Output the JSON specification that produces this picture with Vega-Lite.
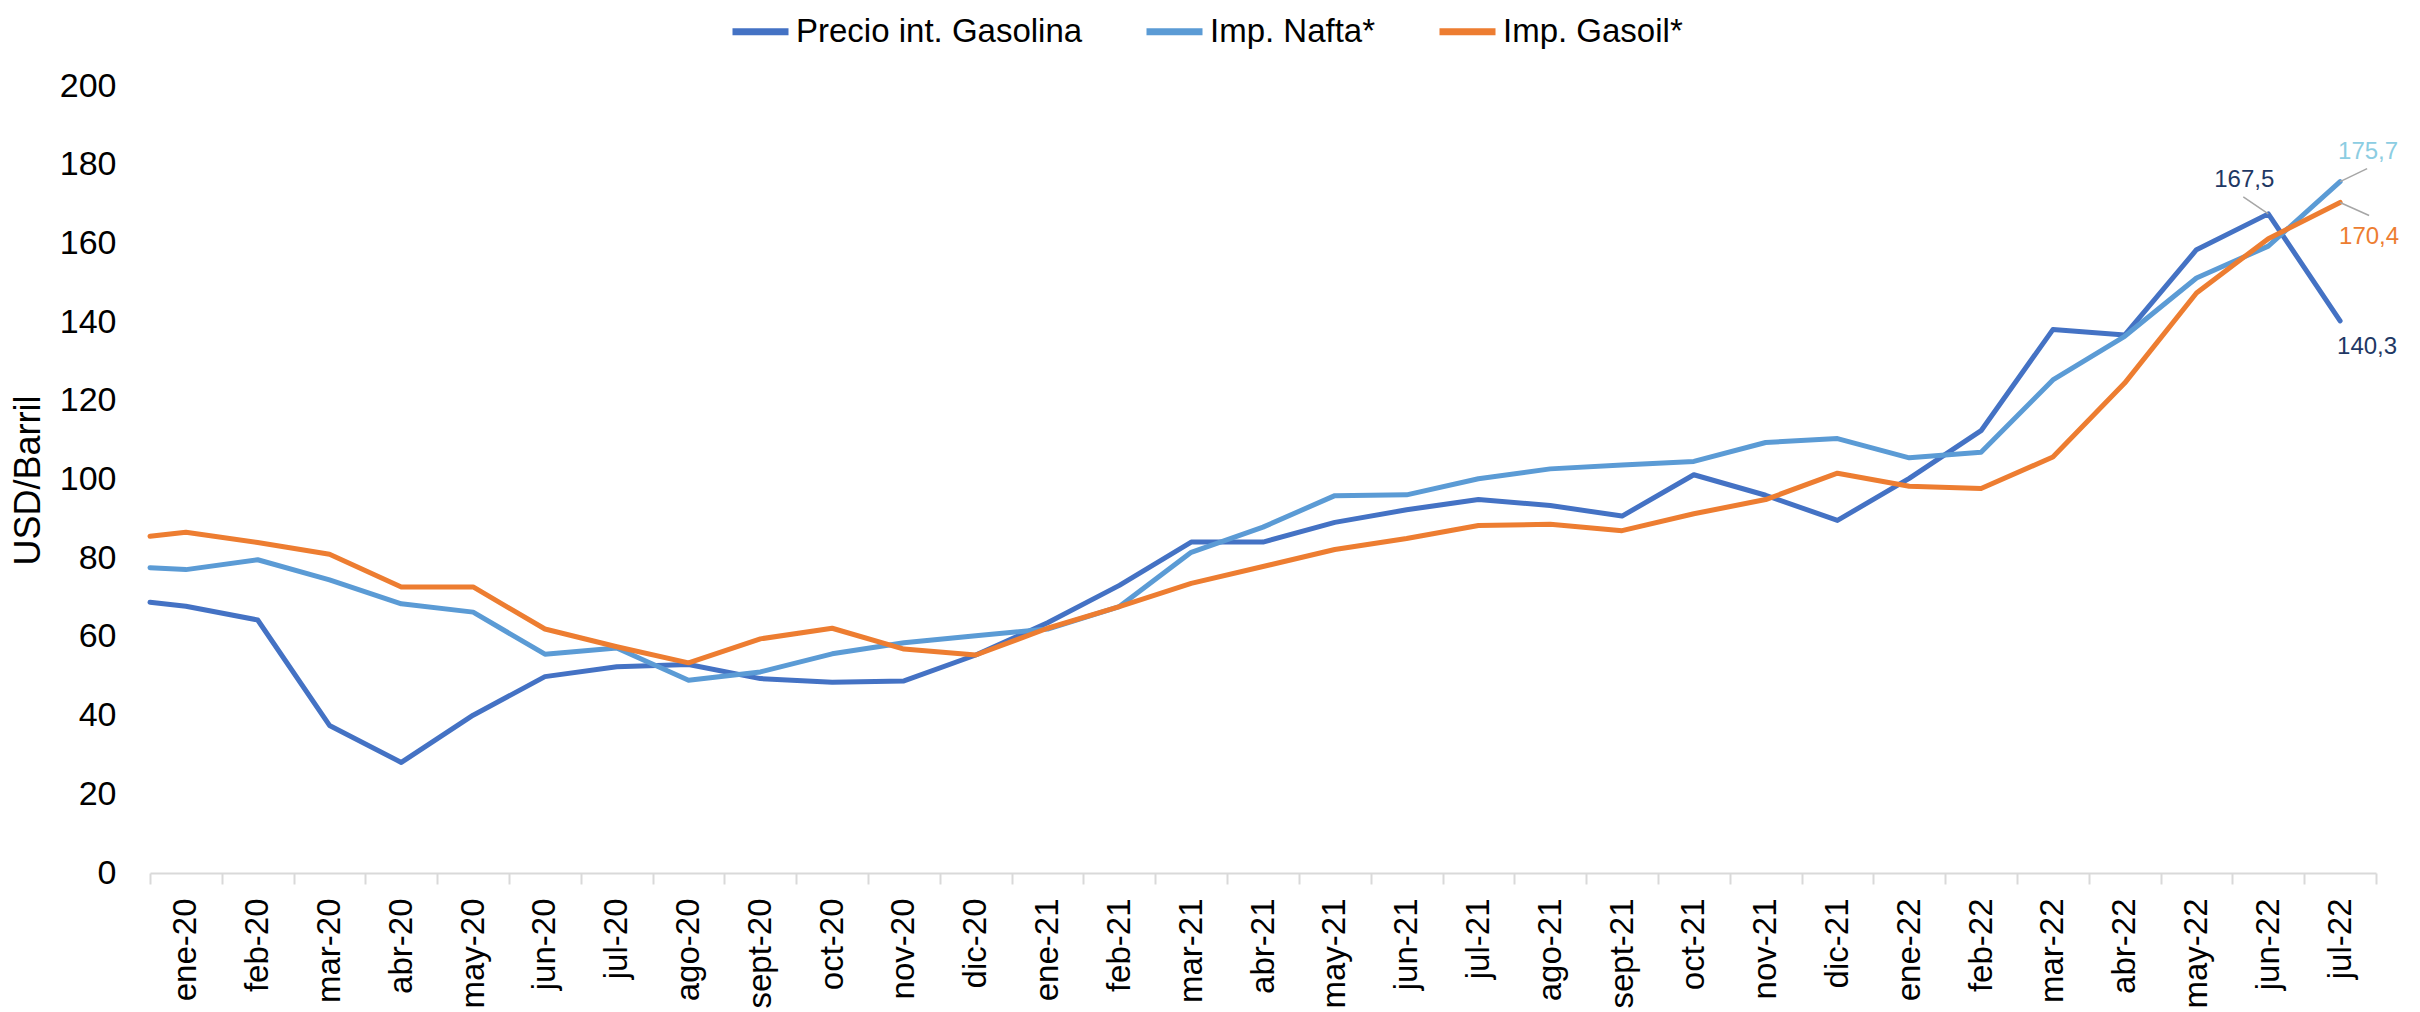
{
  "$schema": "https://vega.github.io/schema/vega-lite/v6.json",
  "width": 2226,
  "height": 787,
  "autosize": {"type": "none"},
  "padding": {"left": 150, "top": 86, "right": 44, "bottom": 139},
  "background": "white",
  "config": {
    "view": {"stroke": null},
    "font": "Liberation Sans"
  },
  "datasets": {
    "precios": [
      {"mes": "inicio", "i": 0.5, "serie": "Precio int. Gasolina", "v": 68.8},
      {"mes": "ene-20", "i": 1, "serie": "Precio int. Gasolina", "v": 67.8},
      {"mes": "feb-20", "i": 2, "serie": "Precio int. Gasolina", "v": 64.3},
      {"mes": "mar-20", "i": 3, "serie": "Precio int. Gasolina", "v": 37.5},
      {"mes": "abr-20", "i": 4, "serie": "Precio int. Gasolina", "v": 28.1},
      {"mes": "may-20", "i": 5, "serie": "Precio int. Gasolina", "v": 40.1},
      {"mes": "jun-20", "i": 6, "serie": "Precio int. Gasolina", "v": 49.9},
      {"mes": "jul-20", "i": 7, "serie": "Precio int. Gasolina", "v": 52.4},
      {"mes": "ago-20", "i": 8, "serie": "Precio int. Gasolina", "v": 53.0},
      {"mes": "sept-20", "i": 9, "serie": "Precio int. Gasolina", "v": 49.4},
      {"mes": "oct-20", "i": 10, "serie": "Precio int. Gasolina", "v": 48.5},
      {"mes": "nov-20", "i": 11, "serie": "Precio int. Gasolina", "v": 48.8},
      {"mes": "dic-20", "i": 12, "serie": "Precio int. Gasolina", "v": 55.4},
      {"mes": "ene-21", "i": 13, "serie": "Precio int. Gasolina", "v": 63.6},
      {"mes": "feb-21", "i": 14, "serie": "Precio int. Gasolina", "v": 73.1},
      {"mes": "mar-21", "i": 15, "serie": "Precio int. Gasolina", "v": 84.1},
      {"mes": "abr-21", "i": 16, "serie": "Precio int. Gasolina", "v": 84.1},
      {"mes": "may-21", "i": 17, "serie": "Precio int. Gasolina", "v": 89.1},
      {"mes": "jun-21", "i": 18, "serie": "Precio int. Gasolina", "v": 92.3},
      {"mes": "jul-21", "i": 19, "serie": "Precio int. Gasolina", "v": 94.9},
      {"mes": "ago-21", "i": 20, "serie": "Precio int. Gasolina", "v": 93.4},
      {"mes": "sept-21", "i": 21, "serie": "Precio int. Gasolina", "v": 90.7},
      {"mes": "oct-21", "i": 22, "serie": "Precio int. Gasolina", "v": 101.2},
      {"mes": "nov-21", "i": 23, "serie": "Precio int. Gasolina", "v": 96.0},
      {"mes": "dic-21", "i": 24, "serie": "Precio int. Gasolina", "v": 89.6},
      {"mes": "ene-22", "i": 25, "serie": "Precio int. Gasolina", "v": 100.3},
      {"mes": "feb-22", "i": 26, "serie": "Precio int. Gasolina", "v": 112.4},
      {"mes": "mar-22", "i": 27, "serie": "Precio int. Gasolina", "v": 138.1},
      {"mes": "abr-22", "i": 28, "serie": "Precio int. Gasolina", "v": 136.7},
      {"mes": "may-22", "i": 29, "serie": "Precio int. Gasolina", "v": 158.4},
      {"mes": "jun-22", "i": 30, "serie": "Precio int. Gasolina", "v": 167.5},
      {"mes": "jul-22", "i": 31, "serie": "Precio int. Gasolina", "v": 140.3},
      {"mes": "inicio", "i": 0.5, "serie": "Imp. Nafta*", "v": 77.6},
      {"mes": "ene-20", "i": 1, "serie": "Imp. Nafta*", "v": 77.1},
      {"mes": "feb-20", "i": 2, "serie": "Imp. Nafta*", "v": 79.6},
      {"mes": "mar-20", "i": 3, "serie": "Imp. Nafta*", "v": 74.5},
      {"mes": "abr-20", "i": 4, "serie": "Imp. Nafta*", "v": 68.4},
      {"mes": "may-20", "i": 5, "serie": "Imp. Nafta*", "v": 66.3},
      {"mes": "jun-20", "i": 6, "serie": "Imp. Nafta*", "v": 55.6},
      {"mes": "jul-20", "i": 7, "serie": "Imp. Nafta*", "v": 57.2},
      {"mes": "ago-20", "i": 8, "serie": "Imp. Nafta*", "v": 49.0},
      {"mes": "sept-20", "i": 9, "serie": "Imp. Nafta*", "v": 51.1},
      {"mes": "oct-20", "i": 10, "serie": "Imp. Nafta*", "v": 55.7},
      {"mes": "nov-20", "i": 11, "serie": "Imp. Nafta*", "v": 58.5},
      {"mes": "dic-20", "i": 12, "serie": "Imp. Nafta*", "v": 60.3},
      {"mes": "ene-21", "i": 13, "serie": "Imp. Nafta*", "v": 62.0},
      {"mes": "feb-21", "i": 14, "serie": "Imp. Nafta*", "v": 67.7},
      {"mes": "mar-21", "i": 15, "serie": "Imp. Nafta*", "v": 81.5},
      {"mes": "abr-21", "i": 16, "serie": "Imp. Nafta*", "v": 87.9},
      {"mes": "may-21", "i": 17, "serie": "Imp. Nafta*", "v": 95.9},
      {"mes": "jun-21", "i": 18, "serie": "Imp. Nafta*", "v": 96.1},
      {"mes": "jul-21", "i": 19, "serie": "Imp. Nafta*", "v": 100.2},
      {"mes": "ago-21", "i": 20, "serie": "Imp. Nafta*", "v": 102.7},
      {"mes": "sept-21", "i": 21, "serie": "Imp. Nafta*", "v": 103.7},
      {"mes": "oct-21", "i": 22, "serie": "Imp. Nafta*", "v": 104.6},
      {"mes": "nov-21", "i": 23, "serie": "Imp. Nafta*", "v": 109.4},
      {"mes": "dic-21", "i": 24, "serie": "Imp. Nafta*", "v": 110.4},
      {"mes": "ene-22", "i": 25, "serie": "Imp. Nafta*", "v": 105.5},
      {"mes": "feb-22", "i": 26, "serie": "Imp. Nafta*", "v": 106.9},
      {"mes": "mar-22", "i": 27, "serie": "Imp. Nafta*", "v": 125.3},
      {"mes": "abr-22", "i": 28, "serie": "Imp. Nafta*", "v": 136.4},
      {"mes": "may-22", "i": 29, "serie": "Imp. Nafta*", "v": 151.2},
      {"mes": "jun-22", "i": 30, "serie": "Imp. Nafta*", "v": 159.3},
      {"mes": "jul-22", "i": 31, "serie": "Imp. Nafta*", "v": 175.7},
      {"mes": "inicio", "i": 0.5, "serie": "Imp. Gasoil*", "v": 85.6},
      {"mes": "ene-20", "i": 1, "serie": "Imp. Gasoil*", "v": 86.6},
      {"mes": "feb-20", "i": 2, "serie": "Imp. Gasoil*", "v": 84.0},
      {"mes": "mar-20", "i": 3, "serie": "Imp. Gasoil*", "v": 81.0},
      {"mes": "abr-20", "i": 4, "serie": "Imp. Gasoil*", "v": 72.7},
      {"mes": "may-20", "i": 5, "serie": "Imp. Gasoil*", "v": 72.7},
      {"mes": "jun-20", "i": 6, "serie": "Imp. Gasoil*", "v": 62.0},
      {"mes": "jul-20", "i": 7, "serie": "Imp. Gasoil*", "v": 57.5},
      {"mes": "ago-20", "i": 8, "serie": "Imp. Gasoil*", "v": 53.4},
      {"mes": "sept-20", "i": 9, "serie": "Imp. Gasoil*", "v": 59.5},
      {"mes": "oct-20", "i": 10, "serie": "Imp. Gasoil*", "v": 62.2},
      {"mes": "nov-20", "i": 11, "serie": "Imp. Gasoil*", "v": 56.9},
      {"mes": "dic-20", "i": 12, "serie": "Imp. Gasoil*", "v": 55.4},
      {"mes": "ene-21", "i": 13, "serie": "Imp. Gasoil*", "v": 62.2},
      {"mes": "feb-21", "i": 14, "serie": "Imp. Gasoil*", "v": 67.7},
      {"mes": "mar-21", "i": 15, "serie": "Imp. Gasoil*", "v": 73.6},
      {"mes": "abr-21", "i": 16, "serie": "Imp. Gasoil*", "v": 77.9},
      {"mes": "may-21", "i": 17, "serie": "Imp. Gasoil*", "v": 82.2},
      {"mes": "jun-21", "i": 18, "serie": "Imp. Gasoil*", "v": 85.0},
      {"mes": "jul-21", "i": 19, "serie": "Imp. Gasoil*", "v": 88.3},
      {"mes": "ago-21", "i": 20, "serie": "Imp. Gasoil*", "v": 88.6},
      {"mes": "sept-21", "i": 21, "serie": "Imp. Gasoil*", "v": 87.0},
      {"mes": "oct-21", "i": 22, "serie": "Imp. Gasoil*", "v": 91.3},
      {"mes": "nov-21", "i": 23, "serie": "Imp. Gasoil*", "v": 94.9},
      {"mes": "dic-21", "i": 24, "serie": "Imp. Gasoil*", "v": 101.6},
      {"mes": "ene-22", "i": 25, "serie": "Imp. Gasoil*", "v": 98.3},
      {"mes": "feb-22", "i": 26, "serie": "Imp. Gasoil*", "v": 97.7},
      {"mes": "mar-22", "i": 27, "serie": "Imp. Gasoil*", "v": 105.7},
      {"mes": "abr-22", "i": 28, "serie": "Imp. Gasoil*", "v": 124.5},
      {"mes": "may-22", "i": 29, "serie": "Imp. Gasoil*", "v": 147.4},
      {"mes": "jun-22", "i": 30, "serie": "Imp. Gasoil*", "v": 161.2},
      {"mes": "jul-22", "i": 31, "serie": "Imp. Gasoil*", "v": 170.4}
    ],
    "anot": [
      {"serie": "Precio int. Gasolina", "i": 30, "v": 167.5, "etiqueta": "167,5"},
      {"serie": "Precio int. Gasolina", "i": 31, "v": 140.3, "etiqueta": "140,3"},
      {"serie": "Imp. Nafta*", "i": 31, "v": 175.7, "etiqueta": "175,7"},
      {"serie": "Imp. Gasoil*", "i": 31, "v": 170.4, "etiqueta": "170,4"}
    ]
  },
  "encoding": {
    "x": {
      "field": "i",
      "type": "quantitative",
      "scale": {"domain": [0.5, 31.5], "nice": false, "zero": false},
      "axis": {
        "title": null,
        "grid": false,
        "values": [0.5, 1, 1.5, 2, 2.5, 3, 3.5, 4, 4.5, 5, 5.5, 6, 6.5, 7, 7.5, 8, 8.5, 9, 9.5, 10, 10.5, 11, 11.5, 12, 12.5, 13, 13.5, 14, 14.5, 15, 15.5, 16, 16.5, 17, 17.5, 18, 18.5, 19, 19.5, 20, 20.5, 21, 21.5, 22, 22.5, 23, 23.5, 24, 24.5, 25, 25.5, 26, 26.5, 27, 27.5, 28, 28.5, 29, 29.5, 30, 30.5, 31, 31.5],
        "labelExpr": "datum.value % 1 === 0 ? ['ene-20','feb-20','mar-20','abr-20','may-20','jun-20','jul-20','ago-20','sept-20','oct-20','nov-20','dic-20','ene-21','feb-21','mar-21','abr-21','may-21','jun-21','jul-21','ago-21','sept-21','oct-21','nov-21','dic-21','ene-22','feb-22','mar-22','abr-22','may-22','jun-22','jul-22'][datum.value - 1] : ''",
        "tickOpacity": {"condition": {"test": "datum.value % 1 !== 0", "value": 1}, "value": 0},
        "tickSize": 11,
        "tickWidth": 2,
        "tickColor": "#D9D9D9",
        "domainColor": "#D9D9D9",
        "domainWidth": 2,
        "labelAngle": -90,
        "labelAlign": "right",
        "labelBaseline": "middle",
        "labelFont": "Liberation Sans",
        "labelFontSize": 33,
        "labelColor": "#000000",
        "labelPadding": 14,
        "labelOverlap": false,
        "labelBound": false,
        "labelFlush": false
      }
    },
    "y": {
      "field": "v",
      "type": "quantitative",
      "scale": {"domain": [0, 200], "nice": false},
      "axis": {
        "title": "USD/Barril",
        "values": [0, 20, 40, 60, 80, 100, 120, 140, 160, 180, 200],
        "grid": false,
        "domain": false,
        "ticks": false,
        "labelFont": "Liberation Sans",
        "labelFontSize": 34,
        "labelColor": "#000000",
        "labelPadding": 34,
        "titleFont": "Liberation Sans",
        "titleFontSize": 36,
        "titleFontWeight": "normal",
        "titleColor": "#000000",
        "titleX": -122,
        "titleY": 394,
        "titleAngle": -90,
        "titleAlign": "center",
        "titleBaseline": "middle"
      }
    }
  },
  "layer": [
    {
      "data": {"name": "precios"},
      "mark": {"type": "line", "strokeWidth": 5, "strokeJoin": "round", "strokeCap": "round"},
      "encoding": {
        "color": {
          "field": "serie",
          "type": "nominal",
          "sort": ["Precio int. Gasolina", "Imp. Nafta*", "Imp. Gasoil*"],
          "scale": {"domain": ["Precio int. Gasolina", "Imp. Nafta*", "Imp. Gasoil*"], "range": ["#4472C4", "#5B9BD5", "#ED7D31"]},
          "legend": {
            "title": null,
            "orient": "none",
            "direction": "horizontal",
            "legendX": 579,
            "legendY": -86,
            "symbolType": "stroke",
            "symbolSize": 3136,
            "symbolStrokeWidth": 7,
            "labelFont": "Liberation Sans",
            "labelFontSize": 33,
            "labelColor": "#000000",
            "labelOffset": 4,
            "columnPadding": 49,
            "labelLimit": 500
          }
        }
      }
    },
    {
      "data": {"name": "anot"},
      "transform": [{"filter": "datum.etiqueta === '167,5'"}],
      "mark": {"type": "rule", "color": "#A6A6A6", "strokeWidth": 1.5, "x2Offset": -25, "y2Offset": -17},
      "encoding": {"x2": {"field": "i"}, "y2": {"field": "v"}}
    },
    {
      "data": {"name": "anot"},
      "transform": [{"filter": "datum.etiqueta === '175,7'"}],
      "mark": {"type": "rule", "color": "#A6A6A6", "strokeWidth": 1.5, "x2Offset": 27, "y2Offset": -13},
      "encoding": {"x2": {"field": "i"}, "y2": {"field": "v"}}
    },
    {
      "data": {"name": "anot"},
      "transform": [{"filter": "datum.etiqueta === '170,4'"}],
      "mark": {"type": "rule", "color": "#A6A6A6", "strokeWidth": 1.5, "x2Offset": 29, "y2Offset": 13},
      "encoding": {"x2": {"field": "i"}, "y2": {"field": "v"}}
    },
    {
      "data": {"name": "anot"},
      "transform": [{"filter": "datum.etiqueta === '167,5'"}],
      "mark": {"type": "text", "font": "Liberation Sans", "fontSize": 24, "color": "#1F3864", "dx": -24, "dy": -34},
      "encoding": {"text": {"field": "etiqueta"}}
    },
    {
      "data": {"name": "anot"},
      "transform": [{"filter": "datum.etiqueta === '140,3'"}],
      "mark": {"type": "text", "font": "Liberation Sans", "fontSize": 24, "color": "#1F3864", "dx": 27, "dy": 26},
      "encoding": {"text": {"field": "etiqueta"}}
    },
    {
      "data": {"name": "anot"},
      "transform": [{"filter": "datum.etiqueta === '175,7'"}],
      "mark": {"type": "text", "font": "Liberation Sans", "fontSize": 24, "color": "#8CCDE2", "dx": 28, "dy": -30},
      "encoding": {"text": {"field": "etiqueta"}}
    },
    {
      "data": {"name": "anot"},
      "transform": [{"filter": "datum.etiqueta === '170,4'"}],
      "mark": {"type": "text", "font": "Liberation Sans", "fontSize": 24, "color": "#ED7D31", "dx": 29, "dy": 35},
      "encoding": {"text": {"field": "etiqueta"}}
    }
  ]
}
